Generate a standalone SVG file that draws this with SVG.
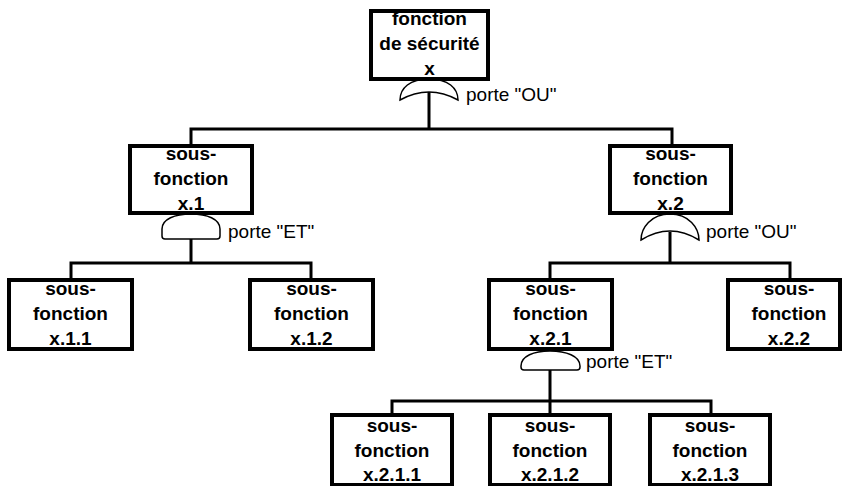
<svg xmlns="http://www.w3.org/2000/svg" width="843" height="486" viewBox="0 0 843 486">
<style>
.box{fill:#fff;stroke:#000;stroke-width:4}
.t{font-family:"Liberation Sans",Arial,sans-serif;font-weight:bold;font-size:19px;text-anchor:middle;fill:#000}
.lbl{font-family:"Liberation Sans",Arial,sans-serif;font-size:19px;fill:#000}
.gate{fill:#fff;stroke:#000;stroke-width:1.5}
.c{fill:none;stroke:#000;stroke-width:3}
</style>
<rect width="843" height="486" fill="#fff"/>
<g id="connectors">
<path class="c" d="M429,92V129M191,146V129H672V146"/>
<path class="c" d="M191,239V263M71,280V263H311V280"/>
<path class="c" d="M670,232V263M550,280V263H790V280"/>
<path class="c" d="M550,370V401M392,415V401H711V415M550,401V415"/>
</g>
<g id="gate-x">
<path class="gate" d="M400,100C400,88 410,79 429,79C448,79 458,88 458,100Q429,84 400,100Z"/>
<text class="lbl" x="466" y="101">porte "OU"</text>
</g>
<g id="gate-x1">
<path class="gate" d="M162,236V229C162,219 175,214 191,214C207,214 220,219 220,229V236Q220,239 217,239H165Q162,239 162,236Z"/>
<text class="lbl" x="228" y="238">porte "ET"</text>
</g>
<g id="gate-x2">
<path class="gate" d="M641,240C641,228 651,214 670,214C689,214 699,228 699,240Q670,222 641,240Z"/>
<text class="lbl" x="706" y="238">porte "OU"</text>
</g>
<g id="gate-x21">
<path class="gate" d="M521,367V366C521,356 534,351 550,351C566,351 580,356 580,366V367Q580,370 577,370H524Q521,370 521,367Z"/>
<text class="lbl" x="586" y="368">porte "ET"</text>
</g>
<g id="n-x">
<rect class="box" x="371" y="11" width="117" height="68"/>
<text class="t" x="429.5" y="25">fonction</text>
<text class="t" x="429.5" y="50">de sécurité</text>
<text class="t" x="429.5" y="75">x</text>
</g>
<g id="n-x1">
<rect class="box" x="130" y="146" width="122" height="67"/>
<text class="t" x="191" y="160">sous-</text>
<text class="t" x="191" y="185">fonction</text>
<text class="t" x="191" y="210">x.1</text>
</g>
<g id="n-x2">
<rect class="box" x="610" y="146" width="121" height="67"/>
<text class="t" x="670.5" y="160">sous-</text>
<text class="t" x="670.5" y="185">fonction</text>
<text class="t" x="670.5" y="210">x.2</text>
</g>
<g id="n-x11">
<rect class="box" x="9" y="280" width="123" height="69"/>
<text class="t" x="70.5" y="295">sous-</text>
<text class="t" x="70.5" y="320">fonction</text>
<text class="t" x="70.5" y="345">x.1.1</text>
</g>
<g id="n-x12">
<rect class="box" x="250" y="280" width="123" height="69"/>
<text class="t" x="311.5" y="295">sous-</text>
<text class="t" x="311.5" y="320">fonction</text>
<text class="t" x="311.5" y="345">x.1.2</text>
</g>
<g id="n-x21">
<rect class="box" x="489" y="280" width="123" height="69"/>
<text class="t" x="550.5" y="295">sous-</text>
<text class="t" x="550.5" y="320">fonction</text>
<text class="t" x="550.5" y="345">x.2.1</text>
</g>
<g id="n-x22">
<rect class="box" x="728" y="280" width="112" height="69"/>
<text class="t" x="789" y="295">sous-</text>
<text class="t" x="789" y="320">fonction</text>
<text class="t" x="789" y="345">x.2.2</text>
</g>
<g id="n-x211">
<rect class="box" x="332" y="415" width="120" height="70"/>
<text class="t" x="392" y="432">sous-</text>
<text class="t" x="392" y="457">fonction</text>
<text class="t" x="392" y="481">x.2.1.1</text>
</g>
<g id="n-x212">
<rect class="box" x="490" y="415" width="120" height="70"/>
<text class="t" x="550" y="432">sous-</text>
<text class="t" x="550" y="457">fonction</text>
<text class="t" x="550" y="481">x.2.1.2</text>
</g>
<g id="n-x213">
<rect class="box" x="650" y="415" width="120" height="70"/>
<text class="t" x="710" y="432">sous-</text>
<text class="t" x="710" y="457">fonction</text>
<text class="t" x="710" y="481">x.2.1.3</text>
</g>
</svg>
